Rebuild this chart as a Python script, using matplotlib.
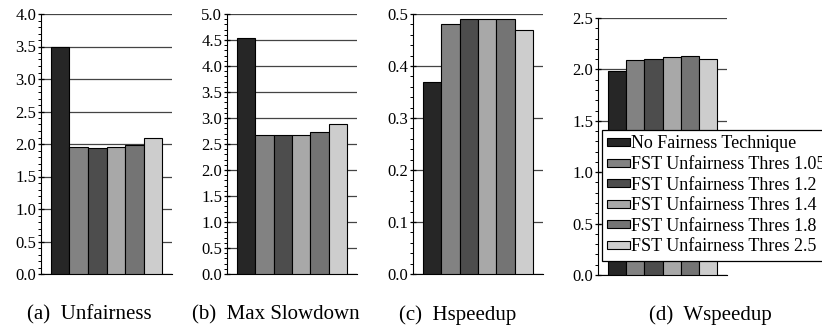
import matplotlib
matplotlib.use("Agg")
import matplotlib.pyplot as plt
from matplotlib.ticker import MultipleLocator
from matplotlib.patches import Patch

plt.rcParams['font.family'] = ['Liberation Serif', 'DejaVu Serif']

series = ['No Fairness Technique', 'FST Unfairness Thres 1.05', 'FST Unfairness Thres 1.2',
          'FST Unfairness Thres 1.4', 'FST Unfairness Thres 1.8', 'FST Unfairness Thres 2.5']
colors = ['#262626', '#828282', '#4d4d4d', '#a8a8a8', '#747474', '#cdcdcd']

unfairness = [3.50, 1.96, 1.94, 1.95, 1.98, 2.10]
max_slowdown = [4.53, 2.68, 2.68, 2.68, 2.73, 2.89]
hspeedup = [0.37, 0.48, 0.49, 0.49, 0.49, 0.47]
wspeedup = [1.98, 2.09, 2.10, 2.12, 2.13, 2.10]

captions = ['(a)  Unfairness', '(b)  Max Slowdown', '(c)  Hspeedup', '(d)  Wspeedup']
caption_x = [89, 276, 458, 710]

# (values, ymax, major step, minor step, left, right, top, bottom) in pixels
panels = [
    (unfairness, 4.0, 0.5, 0.1, 41, 172, 14, 274),
    (max_slowdown, 5.0, 0.5, 0.1, 227, 357, 14, 274),
    (hspeedup, 0.5, 0.1, 0.02, 413, 543, 14, 274),
    (wspeedup, 2.5, 0.5, 0.1, 598, 727, 18, 275),
]

W, H = 822, 330
fig = plt.figure(figsize=(W / 100, H / 100), dpi=100)

for vals, ymax, major, minor, l, r, t, b in panels:
    ax = fig.add_axes([l / W, 1 - b / H, (r - l) / W, (b - t) / H])
    x = list(range(len(vals)))
    ax.bar(x, vals, width=1.0, color=colors, edgecolor='black', linewidth=0.8, zorder=3)
    ax.set_xlim(-1.04, 6.04)
    ax.set_ylim(0, ymax)
    ax.yaxis.set_major_locator(MultipleLocator(major))
    ax.yaxis.set_minor_locator(MultipleLocator(minor))
    ax.yaxis.set_major_formatter(matplotlib.ticker.FormatStrFormatter('%.1f'))
    ax.grid(axis='y', which='major', color='#444444', linewidth=0.9, zorder=0)
    ax.set_axisbelow(True)
    for s in ['top', 'right']:
        ax.spines[s].set_visible(False)
    ax.set_xticks([])
    ax.tick_params(axis='y', which='major', direction='inout', length=5, width=0.9,
                   labelsize=12, pad=1)
    ax.tick_params(axis='y', which='minor', direction='out', length=2, width=0.7)

for txt, cx in zip(captions, caption_x):
    fig.text(cx / W, 1 - 315 / H, txt, ha='center', va='center', fontsize=15)

handles = [Patch(facecolor=c, edgecolor='black', linewidth=0.8) for c in colors]
leg = fig.legend(handles, series, loc='upper left',
                 bbox_to_anchor=(602 / W, 1 - 130 / H), fontsize=13,
                 frameon=True, fancybox=False, framealpha=1, edgecolor='black',
                 handlelength=1.25, handleheight=0.3, handletextpad=0.08,
                 labelspacing=0.2, borderpad=0.3, borderaxespad=0)
leg.get_frame().set_linewidth(0.9)

fig.savefig('out.png', dpi=100)
